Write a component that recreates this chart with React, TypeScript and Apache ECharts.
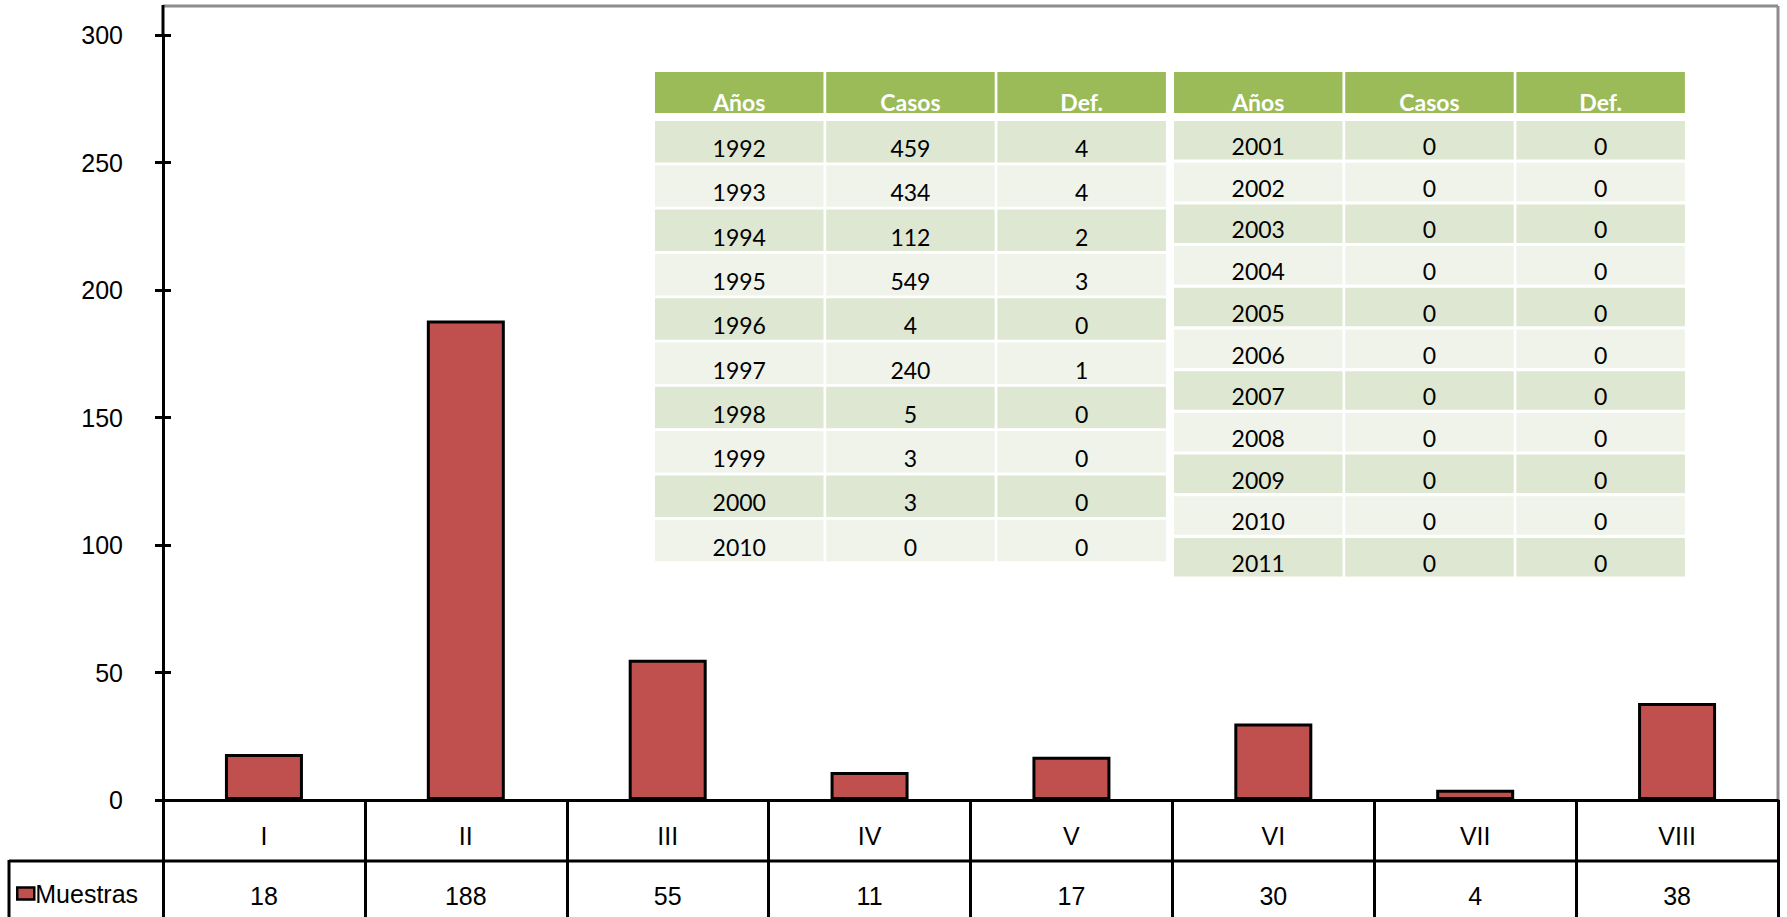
import React, { useEffect, useRef } from "react";
import * as echarts from "echarts";

const categories = ["I", "II", "III", "IV", "V", "VI", "VII", "VIII"];
const muestras = [18, 188, 55, 11, 17, 30, 4, 38];
const yTicks = { min: 0, max: 300, interval: 50 };

const tableHeaders = ["Años", "Casos", "Def."];
const yearsA = ["1992", "1993", "1994", "1995", "1996", "1997", "1998", "1999", "2000", "2010"];
const casosA = [459, 434, 112, 549, 4, 240, 5, 3, 3, 0];
const defA = [4, 4, 2, 3, 0, 1, 0, 0, 0, 0];
const yearsB = ["2001", "2002", "2003", "2004", "2005", "2006", "2007", "2008", "2009", "2010", "2011"];
const casosB = [0, 0, 0, 0, 0, 0, 0, 0, 0, 0, 0];
const defB = [0, 0, 0, 0, 0, 0, 0, 0, 0, 0, 0];

const HEADER_GREEN = "#9BBB59";
const ROW_DARK = "#DEE7D1";
const ROW_LIGHT = "#EFF3EA";
const TABLE_FONT = "Lato, 'Open Sans', sans-serif";
const AXIS_FONT = "'Liberation Sans', Arial, sans-serif";

function buildTable(
  x0: number,
  rowTop: number,
  rowPitch: number,
  rowH: number,
  textOff: number,
  years: string[],
  casos: number[],
  defs: number[]
) {
  const colPitch = 171.2;
  const colW = 168.5;
  const els: any[] = [];
  tableHeaders.forEach((h, j) => {
    els.push({
      type: "rect",
      shape: { x: x0 + j * colPitch, y: 72, width: colW, height: 41 },
      style: { fill: HEADER_GREEN },
      silent: true,
    });
    els.push({
      type: "text",
      x: x0 + j * colPitch + colW / 2,
      y: 102,
      style: {
        text: h,
        fill: "#fff",
        font: `bold 23px ${TABLE_FONT}`,
        textAlign: "center",
        textVerticalAlign: "middle",
      },
      silent: true,
    });
  });
  years.forEach((yr, i) => {
    const cells = [yr, String(casos[i]), String(defs[i])];
    const top = rowTop + i * rowPitch;
    cells.forEach((c, j) => {
      els.push({
        type: "rect",
        shape: { x: x0 + j * colPitch, y: top, width: colW, height: rowH },
        style: { fill: i % 2 === 0 ? ROW_DARK : ROW_LIGHT },
        silent: true,
      });
      els.push({
        type: "text",
        x: x0 + j * colPitch + colW / 2,
        y: top + textOff,
        style: {
          text: c,
          fill: "#000",
          font: `23px ${TABLE_FONT}`,
          textAlign: "center",
          textVerticalAlign: "middle",
        },
        silent: true,
      });
    });
  });
  return els;
}

export default function App() {
  const ref = useRef<HTMLDivElement>(null);
  useEffect(() => {
    if (!ref.current) return;
    const chart = echarts.init(ref.current, null, { renderer: "svg" });
    const gridLeft = 163;
    const gridRight = 1778;
    const zeroY = 800;
    const option: any = {
      animation: false,
      backgroundColor: "#fff",
      grid: { left: gridLeft, right: 1787 - gridRight, top: 35, bottom: 917 - zeroY, containLabel: false },
      legend: {
        show: true,
        left: 16,
        top: 881,
        padding: 0,
        itemWidth: 17,
        itemHeight: 12,
        icon: "rect",
        textStyle: { fontFamily: AXIS_FONT, fontSize: 25, color: "#000", padding: [0, 0, 0, -4] },
        itemStyle: { borderColor: "#000", borderWidth: 2.5 },
        data: ["Muestras"],
      },
      xAxis: [
        {
          type: "category",
          data: categories,
          position: "bottom",
          axisLine: { show: true, lineStyle: { color: "#000", width: 3 } },
          axisTick: { show: true, interval: 0, length: 117, inside: false, lineStyle: { color: "#000", width: 3 } },
          axisLabel: { interval: 0, margin: 23, fontFamily: AXIS_FONT, fontSize: 25, color: "#000" },
          splitLine: { show: false },
        },
        {
          type: "category",
          data: muestras.map((v) => String(v)),
          position: "bottom",
          axisLine: { show: false },
          axisTick: { show: false },
          axisLabel: { interval: 0, margin: 83, fontFamily: AXIS_FONT, fontSize: 25, color: "#000" },
          splitLine: { show: false },
        },
      ],
      yAxis: [
        {
          type: "value",
          min: yTicks.min,
          max: yTicks.max,
          interval: yTicks.interval,
          position: "left",
          axisLine: { show: true, lineStyle: { color: "#000", width: 3 } },
          axisTick: { show: true, length: 8, inside: false, lineStyle: { color: "#000", width: 3 } },
          axisLabel: { margin: 40, fontFamily: AXIS_FONT, fontSize: 25, color: "#000" },
          splitLine: { show: false },
        },
        {
          type: "value",
          min: yTicks.min,
          max: yTicks.max,
          interval: yTicks.interval,
          position: "left",
          axisLine: { show: false },
          axisTick: { show: true, length: 8, inside: true, lineStyle: { color: "#000", width: 3 } },
          axisLabel: { show: false },
          splitLine: { show: false },
        },
      ],
      series: [
        {
          name: "Muestras",
          type: "bar",
          xAxisIndex: 0,
          yAxisIndex: 0,
          data: muestras,
          barWidth: 78,
          itemStyle: { color: "#C0504D", borderColor: "#000", borderWidth: 3 },
        },
      ],
      graphic: [
        { type: "line", shape: { x1: gridLeft, y1: 6, x2: gridRight, y2: 6 }, style: { stroke: "#8C8C8C", lineWidth: 3 }, silent: true },
        { type: "line", shape: { x1: gridRight, y1: 6, x2: gridRight, y2: zeroY }, style: { stroke: "#8C8C8C", lineWidth: 3 }, silent: true },
        { type: "line", shape: { x1: gridLeft, y1: 5, x2: gridLeft, y2: 36 }, style: { stroke: "#000", lineWidth: 3 }, silent: true },
        { type: "line", shape: { x1: 9, y1: 861, x2: gridRight, y2: 861 }, style: { stroke: "#000", lineWidth: 3 }, silent: true },
        { type: "line", shape: { x1: 9, y1: 860, x2: 9, y2: 917 }, style: { stroke: "#000", lineWidth: 3 }, silent: true },
        ...buildTable(655, 121, 44.3, 41.5, 27, yearsA, casosA, defA),
        ...buildTable(1174, 121, 41.7, 38.5, 25, yearsB, casosB, defB),
      ],
    };
    chart.setOption(option);
    return () => chart.dispose();
  }, []);
  return (
    <div
      ref={ref}
      style={{ position: "fixed", left: 0, top: 0, width: "1787px", height: "917px", background: "#fff" }}
    />
  );
}
